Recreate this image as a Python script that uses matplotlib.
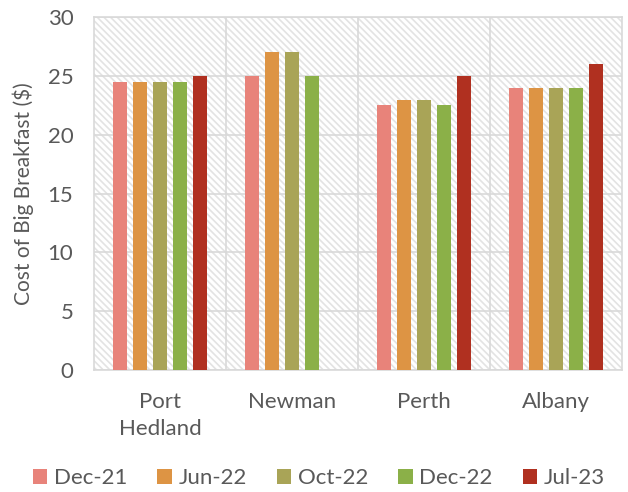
import numpy as np
import matplotlib.pyplot as plt
from matplotlib.patches import Rectangle

towns = ['Port\nHedland', 'Newman', 'Perth', 'Albany']
periods = ['Dec-21', 'Jun-22', 'Oct-22', 'Dec-22', 'Jul-23']
cost = [
    [24.5, 25, 22.5, 24],   # Dec-21
    [24.5, 27, 23, 24],     # Jun-22
    [24.5, 27, 23, 24],     # Oct-22
    [24.5, 25, 22.5, 24],   # Dec-22
    [25, 0, 25, 26],        # Jul-23 (no Newman price)
]
colors = ['#E8837A', '#DD9444', '#A9A457', '#8BB048', '#B03020']

plt.rcParams['font.family'] = ['Lato', 'DejaVu Sans']
plt.rcParams['hatch.linewidth'] = 1.2
plt.rcParams['hatch.color'] = '#E3E3E3'
txt = '#595959'
grid = '#D9D9D9'

fig = plt.figure(figsize=(6.28, 4.92), dpi=100)
ax = fig.add_axes([0.150, 0.248, 0.840, 0.717])

# hatched plot area
ax.add_patch(Rectangle((0, 0), 1, 1, transform=ax.transAxes, facecolor='white',
                       hatch='\\\\\\\\\\', edgecolor='#E3E3E3', linewidth=0, zorder=0))

x = np.arange(len(towns))
pitch = 0.152
w = 0.106
for i, (p, vals) in enumerate(zip(periods, cost)):
    ax.bar(x + (i - 2) * pitch, vals, width=w, color=colors[i], label=p, zorder=3)

ax.set_xlim(-0.5, len(towns) - 0.5)
ax.set_ylim(0, 30)
ax.set_yticks(range(0, 31, 5))
ax.set_xticks(x)
ax.set_xticklabels(towns, linespacing=1.45)
for b in np.arange(0.5, len(towns) - 1, 1):
    ax.axvline(b, color=grid, lw=1.2, zorder=1)
ax.yaxis.grid(True, color=grid, lw=1.2, zorder=1)
ax.set_axisbelow(True)
for s in ax.spines.values():
    s.set_color(grid)
    s.set_linewidth(1.2)
ax.tick_params(length=0, labelsize=16, colors=txt)
ax.tick_params(axis='y', pad=15)
ax.tick_params(axis='x', pad=16)
ax.set_ylabel('Cost of Big Breakfast ($)', fontsize=15, color=txt, labelpad=10)

leg = ax.legend(loc='center', bbox_to_anchor=(0.426, -0.306), ncol=5,
                frameon=False, fontsize=16, handlelength=0.65, handleheight=0.65,
                handletextpad=0.3, columnspacing=1.35, labelcolor=txt)

fig.savefig('out.png', dpi=100)
